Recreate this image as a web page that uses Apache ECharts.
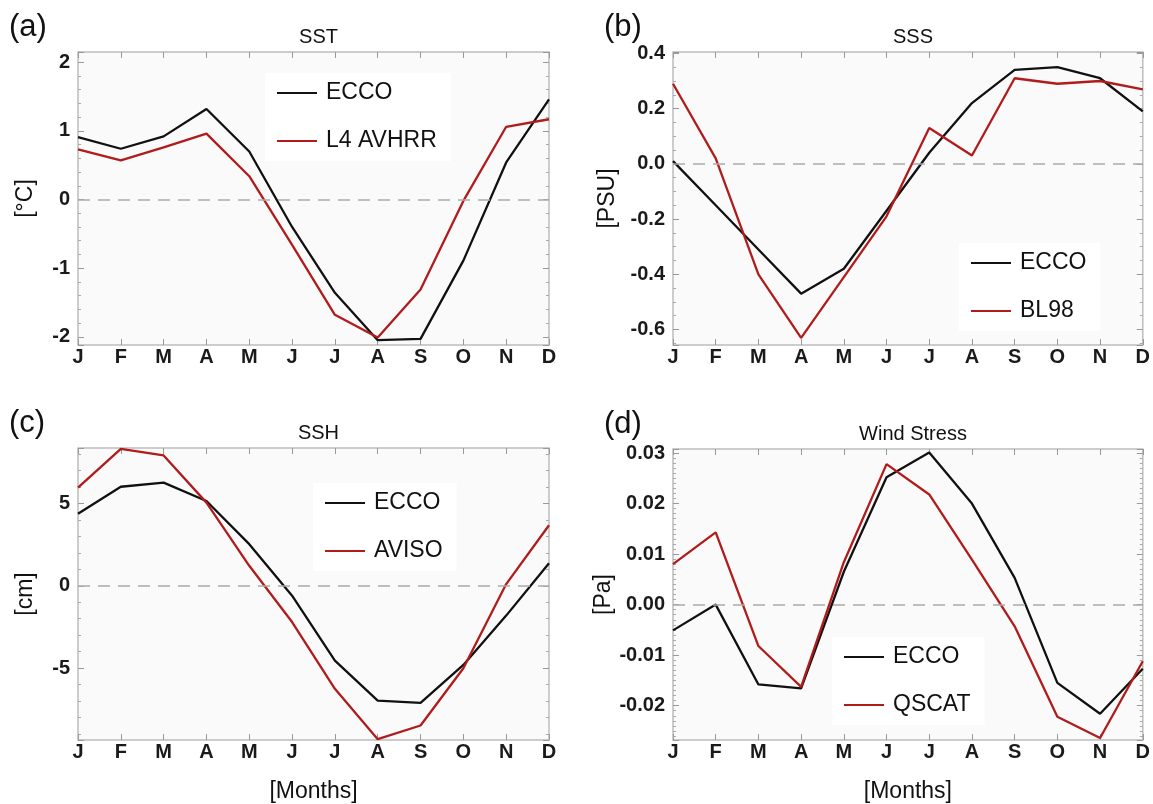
<!DOCTYPE html>
<html lang="en">
<head>
    <meta charset="UTF-8">
    <title>ECCO seasonal cycle</title>
    <style>
        html, body { margin: 0; padding: 0; background: #fff; }
        #main { width: 1153px; height: 804px; }
    </style>
</head>
<body>
<div id="main"></div>
<script src="https://cdn.jsdelivr.net/npm/echarts@6/dist/echarts.min.js"></script>
<script>
    var months = ['J', 'F', 'M', 'A', 'M', 'J', 'J', 'A', 'S', 'O', 'N', 'D'];

    // (a) SST [°C]
    var sstEcco   = [0.91, 0.74, 0.92, 1.32, 0.70, -0.40, -1.36, -2.05, -2.03, -0.89, 0.54, 1.46];
    var sstAvhrr  = [0.73, 0.57, 0.76, 0.96, 0.34, -0.66, -1.68, -2.01, -1.31, -0.02, 1.06, 1.17];
    // (b) SSS [PSU]
    var sssEcco   = [0.01, -0.15, -0.31, -0.47, -0.38, -0.17, 0.04, 0.22, 0.34, 0.35, 0.31, 0.19];
    var sssBl98   = [0.29, 0.02, -0.40, -0.63, -0.41, -0.19, 0.13, 0.03, 0.31, 0.29, 0.30, 0.27];
    // (c) SSH [cm]
    var sshEcco   = [4.37, 6.0, 6.25, 5.14, 2.52, -0.6, -4.54, -6.96, -7.10, -4.8, -1.81, 1.37];
    var sshAviso  = [5.95, 8.3, 7.9, 5.04, 1.21, -2.2, -6.25, -9.3, -8.47, -5.0, 0.1, 3.67];
    // (d) Wind stress [Pa]
    var windEcco  = [-0.0051, 0.0, -0.0158, -0.0166, 0.0065, 0.0252, 0.0301, 0.0200, 0.0053, -0.0155, -0.0216, -0.0127];
    var windQscat = [0.0080, 0.0143, -0.0082, -0.0163, 0.0084, 0.0278, 0.0218, 0.0089, -0.0043, -0.0222, -0.0264, -0.0112];

    var FONT = 'Liberation Sans, Arial, Helvetica, sans-serif';
    var RED = '#b01c1c';
    var BLACK = '#111111';
    var FRAME = '#bdbdbd';

    var panels = [
        {title: 'SST', letter: '(a)', left: 78, top: 52, width: 471, height: 293,
            min: -2.12, max: 2.15, split: 5, minor: 5, dec: 0, unit: '[°C]', nameGap: 41,
            ecco: sstEcco, other: sstAvhrr, otherName: 'L4 AVHRR', legLeft: 265, legTop: 73, months: false},
        {title: 'SSS', letter: '(b)', left: 673, top: 52, width: 470, height: 293,
            min: -0.656, max: 0.405, split: 5, minor: 4, dec: 1, unit: '[PSU]', nameGap: 54,
            ecco: sssEcco, other: sssBl98, otherName: 'BL98', legLeft: 959, legTop: 243, months: false},
        {title: 'SSH', letter: '(c)', left: 78, top: 448, width: 471, height: 293,
            min: -9.35, max: 8.35, split: 4, minor: 5, dec: 0, unit: '[cm]', nameGap: 41,
            ecco: sshEcco, other: sshAviso, otherName: 'AVISO', legLeft: 313, legTop: 483, months: true},
        {title: 'Wind Stress', letter: '(d)', left: 673, top: 449, width: 470, height: 292,
            min: -0.0268, max: 0.0308, split: 5, minor: 10, dec: 2, unit: '[Pa]', nameGap: 55,
            ecco: windEcco, other: windQscat, otherName: 'QSCAT', legLeft: 832, legTop: 637, months: true}
    ];

    var myChart = echarts.init(document.getElementById('main'), null, {renderer: 'canvas'});

    var titles = [], grids = [], xAxes = [], yAxes = [], series = [], legends = [];

    panels.forEach(function (p, i) {
        titles.push({
            text: p.title, left: p.left + p.width / 2, top: p.top - 30, textAlign: 'center',
            textStyle: {fontFamily: FONT, fontSize: 20, fontWeight: 'normal', color: '#111'}
        });
        titles.push({
            text: p.letter, left: p.left - 74, top: p.top - 47,
            textStyle: {fontFamily: FONT, fontSize: 31, fontWeight: 'normal', color: '#111', lineHeight: 34}
        });

        grids.push({
            left: p.left, top: p.top, width: p.width, height: p.height,
            show: true, backgroundColor: '#fafafa', borderColor: FRAME, borderWidth: 1.5
        });

        var tick = {show: true, inside: true, length: 6, lineStyle: {color: '#999', width: 1}};
        var minorTick = {show: true, splitNumber: p.minor, length: 3, lineStyle: {color: '#aaa', width: 1}};

        // bottom x axis with month letters
        xAxes.push({
            type: 'category', gridIndex: i, data: months, boundaryGap: false, position: 'bottom',
            axisLine: {show: false, onZero: false},
            axisTick: {show: true, inside: true, length: 6, alignWithLabel: true, lineStyle: {color: '#999'}},
            axisLabel: {fontFamily: FONT, fontSize: 20, fontWeight: 'bold', color: '#1a1a1a', margin: 2, interval: 0},
            splitLine: {show: false},
            name: p.months ? '[Months]' : '',
            nameLocation: 'middle', nameGap: 40,
            nameTextStyle: {fontFamily: FONT, fontSize: 23, color: '#111'}
        });
        // top x axis, ticks only
        xAxes.push({
            type: 'category', gridIndex: i, data: months, boundaryGap: false, position: 'top',
            axisLine: {show: false, onZero: false},
            axisTick: {show: true, inside: true, length: 6, lineStyle: {color: '#999'}},
            axisLabel: {show: false}, splitLine: {show: false}
        });

        yAxes.push({
            type: 'value', gridIndex: i, position: 'left', min: p.min, max: p.max, splitNumber: p.split,
            axisLine: {show: false}, axisTick: tick, minorTick: minorTick, splitLine: {show: false},
            axisLabel: {
                fontFamily: FONT, fontSize: 20, fontWeight: 'bold', color: '#1a1a1a', margin: 8,
                showMinLabel: false, showMaxLabel: false,
                formatter: (function (d) { return function (v) { return v.toFixed(d); }; })(p.dec)
            },
            name: p.unit, nameLocation: 'middle', nameGap: p.nameGap,
            nameTextStyle: {fontFamily: FONT, fontSize: 23, color: '#111'}
        });
        yAxes.push({
            type: 'value', gridIndex: i, position: 'right', min: p.min, max: p.max, splitNumber: p.split,
            axisLine: {show: false}, axisTick: tick, minorTick: minorTick, splitLine: {show: false},
            axisLabel: {show: false}
        });

        series.push({
            name: 'ECCO', type: 'line', xAxisIndex: 2 * i, yAxisIndex: 2 * i, data: p.ecco,
            showSymbol: false, color: BLACK, lineStyle: {color: BLACK, width: 2.3},
            markLine: {
                silent: true, symbol: 'none', label: {show: false},
                lineStyle: {type: [12, 8], color: '#aaaaaa', width: 1.5},
                data: [{yAxis: 0}]
            }
        });
        series.push({
            name: p.otherName, type: 'line', xAxisIndex: 2 * i, yAxisIndex: 2 * i, data: p.other,
            showSymbol: false, color: RED, lineStyle: {color: RED, width: 2.3}
        });

        legends.push({
            data: ['ECCO', p.otherName], orient: 'vertical', left: p.legLeft, top: p.legTop,
            backgroundColor: '#ffffff', padding: [8, 14, 8, 12], itemGap: 24,
            icon: 'rect', itemWidth: 40, itemHeight: 2, selectedMode: false,
            textStyle: {fontFamily: FONT, fontSize: 23, color: '#111', lineHeight: 24, padding: [0, 0, 0, 4]}
        });
    });

    var option = {
        animation: false,
        backgroundColor: '#ffffff',
        title: titles,
        grid: grids,
        xAxis: xAxes,
        yAxis: yAxes,
        legend: legends,
        series: series
    };
    myChart.setOption(option);
</script>
</body>
</html>
